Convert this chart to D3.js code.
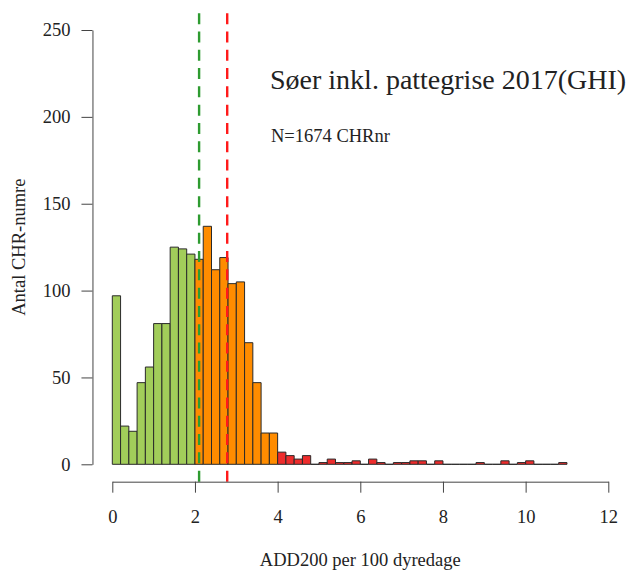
<!DOCTYPE html>
<html>
<head>
<meta charset="utf-8">
<script src="https://cdn.jsdelivr.net/npm/d3@7"></script>
<style>
  html, body { margin: 0; padding: 0; background: #ffffff; }
  svg { display: block; }
  text { font-family: "Liberation Serif", "DejaVu Serif", serif; fill: #222; }
</style>
</head>
<body>
<svg id="chart" width="627" height="573"></svg>
<script>
// ---- data ----
const binWidth = 0.2;
const binStarts = [
  0.0, 0.2, 0.4, 0.6, 0.8, 1.0, 1.2, 1.4, 1.6, 1.8,
  2.0, 2.2, 2.4, 2.6, 2.8, 3.0, 3.2, 3.4, 3.6, 3.8,
  4.0, 4.2, 4.4, 4.6, 4.8, 5.0, 5.2, 5.4, 5.6, 5.8,
  6.0, 6.2, 6.4, 6.6, 6.8, 7.0, 7.2, 7.4, 7.6, 7.8,
  8.0, 8.2, 8.4, 8.6, 8.8, 9.0, 9.2, 9.4, 9.6, 9.8,
  10.0, 10.2, 10.4, 10.6, 10.8
];
const counts = [
  97, 22, 19, 47, 56, 81, 81, 125, 124, 121,
  118, 137, 112, 119, 104, 105, 70, 47, 18, 18,
  7, 5, 3, 5, 0, 1, 3, 1, 1, 2,
  0, 3, 1, 0, 1, 1, 2, 2, 0, 2,
  0, 0, 0, 0, 1, 0, 0, 2, 0, 1,
  2, 0, 0, 0, 1
];
const groupLimits = [2, 4];               // bins below 2: green, 2-4: orange, above: red
const groupColors = ["#A2CD5A", "#FF8C00", "#EE2C2C"];
const refLines = [2.1, 2.78];
const refColors = ["#2E9B30", "#FF1A1A"];
const xTicks = [0, 2, 4, 6, 8, 10, 12];
const yTicks = [0, 50, 100, 150, 200, 250];
const title = "Søer inkl. pattegrise 2017(GHI)";
const subtitle = "N=1674 CHRnr";
const xLabel = "ADD200 per 100 dyredage";
const yLabel = "Antal CHR-numre";

// ---- layout ----
const svg = d3.select("#chart");
const x = d3.scaleLinear().domain([0, 12]).range([112.3, 608.3]);
const y = d3.scaleLinear().domain([0, 250]).range([464.3, 30]);
const plotTop = y(260), plotBottom = y(-10);

const colorOf = v => v < groupLimits[0] ? groupColors[0] : (v < groupLimits[1] ? groupColors[1] : groupColors[2]);

// bars (as paths so zero-count bins still show as a line)
svg.append("g").selectAll("path")
  .data(binStarts.map((s, i) => ({ s, c: counts[i] })))
  .join("path")
  .attr("d", d => {
    const x0 = x(d.s), x1 = x(d.s + binWidth), y0 = y(0), y1 = y(d.c);
    return `M${x0},${y0}H${x1}V${y1}H${x0}Z`;
  })
  .attr("fill", d => colorOf(d.s + 1e-9))
  .attr("stroke", "#2a2a2a")
  .attr("stroke-width", 1);

// reference dashed lines
svg.append("g").selectAll("path")
  .data(refLines)
  .join("path")
  .attr("d", d => `M${x(d)},${plotBottom}V${plotTop}`)
  .attr("stroke", (d, i) => refColors[i])
  .attr("stroke-width", 2.4)
  .attr("stroke-dasharray", "11,7.3")
  .attr("fill", "none");

// y axis
const yAxis = svg.append("g")
  .attr("transform", `translate(${x(-0.48)},0)`)
  .call(d3.axisLeft(y).tickValues(yTicks).tickSize(11).tickPadding(11).tickSizeOuter(0));
// x axis
const xAxis = svg.append("g")
  .attr("transform", `translate(0,${plotBottom})`)
  .call(d3.axisBottom(x).tickValues(xTicks).tickSize(11).tickPadding(17).tickSizeOuter(0));

[yAxis, xAxis].forEach(a => {
  a.select(".domain").attr("stroke", "#444").attr("stroke-width", 1);
  a.selectAll(".tick line").attr("stroke", "#444").attr("stroke-width", 1);
  a.selectAll(".tick text")
    .attr("font-family", "Liberation Serif, serif")
    .attr("font-size", 18.5)
    .attr("fill", "#222");
});

// texts
svg.append("text")
  .attr("x", 270).attr("y", 89)
  .attr("font-size", 28)
  .text(title);
svg.append("text")
  .attr("x", 271).attr("y", 141.5)
  .attr("font-size", 18.5)
  .text(subtitle);
svg.append("text")
  .attr("x", (x(-0.48) + x(12.48)) / 2).attr("y", 566)
  .attr("text-anchor", "middle")
  .attr("font-size", 18.5)
  .text(xLabel);
svg.append("text")
  .attr("transform", `translate(25,${(y(0) + y(250)) / 2}) rotate(-90)`)
  .attr("text-anchor", "middle")
  .attr("font-size", 18.5)
  .text(yLabel);
</script>
</body>
</html>
